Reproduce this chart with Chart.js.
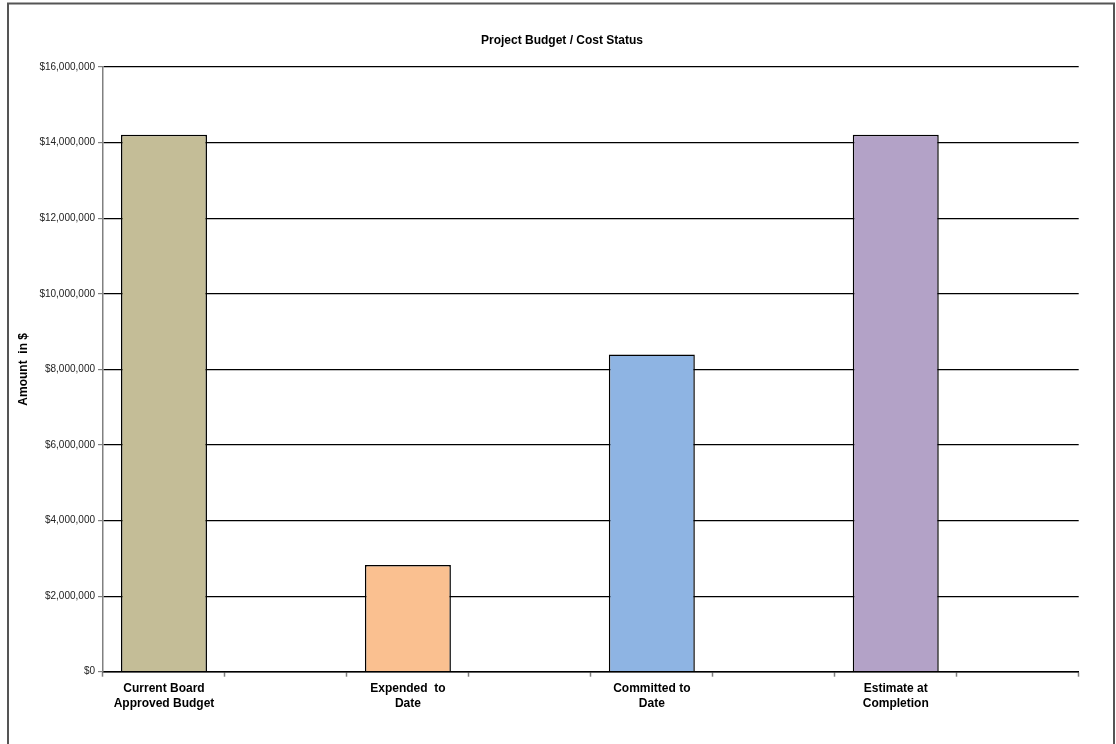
<!DOCTYPE html>
<html>
<head>
<meta charset="utf-8">
<script src="https://cdn.jsdelivr.net/npm/chart.js@4/dist/chart.umd.min.js"></script>
<style>
    html, body { margin: 0; padding: 0; background: #fff; }
    #wrap { width: 1116px; height: 744px; }
</style>
</head>
<body>
<div id="wrap"><canvas id="budgetChart" width="1116" height="744"></canvas></div>
<script>
/* ---------- DATA ---------- */
// every other slot is left empty, like the source sheet
const categories = [
    ["Current Board", "Approved Budget"], "",
    ["Expended  to", "Date"], "",
    ["Committed to", "Date"], "",
    ["Estimate at", "Completion"], ""
];
const amounts = [14210000, null, 2820000, null, 8390000, null, 14210000, null];
const barColors = ["#C4BD97", "#fff", "#FAC090", "#fff", "#8EB4E3", "#fff", "#B3A2C7", "#fff"];
const yTicks = [0, 2000000, 4000000, 6000000, 8000000, 10000000, 12000000, 14000000, 16000000];

/* ---------- outer frame ---------- */
const framePlugin = {
    id: "frame",
    beforeDraw(chart) {
        const ctx = chart.ctx;
        ctx.save();
        ctx.fillStyle = "#fff";
        ctx.fillRect(0, 0, chart.width, chart.height);
        ctx.strokeStyle = "#555";
        ctx.lineWidth = 2;
        ctx.strokeRect(8, 3.5, 1106, 800);
        ctx.restore();
    }
};

const FONT = "'Liberation Sans', Arial, sans-serif";

new Chart(document.getElementById("budgetChart"), {
    type: "bar",
    data: {
        labels: categories,
        datasets: [{
            data: amounts,
            backgroundColor: barColors,
            borderColor: "#000",
            borderWidth: 1.5,
            barPercentage: 0.705,
            categoryPercentage: 1
        }]
    },
    options: {
        responsive: false,
        animation: false,
        layout: {
            padding: { left: 8, right: 0, top: 0, bottom: 0 }
        },
        plugins: {
            legend: { display: false },
            tooltip: { enabled: false },
            title: {
                display: true,
                text: "Project Budget / Cost Status",
                color: "#000",
                font: { family: FONT, size: 12, weight: "bold", lineHeight: 1.2 },
                padding: { top: 33, bottom: 19.6 }
            }
        },
        scales: {
            x: {
                offset: true,
                border: { color: "#000", width: 1.5 },
                grid: {
                    offset: true,
                    drawOnChartArea: false,
                    tickLength: 5,
                    tickColor: "#808080",
                    tickWidth: 1.5
                },
                ticks: {
                    color: "#000",
                    maxRotation: 0,
                    autoSkip: false,
                    padding: 4,
                    font: { family: FONT, size: 12, weight: "bold", lineHeight: 1.3 }
                },
                afterFit(scale) { scale.height = 72.3; }
            },
            y: {
                min: yTicks[0],
                max: yTicks[yTicks.length - 1],
                afterBuildTicks(scale) {
                    scale.ticks = yTicks.map(v => ({ value: v }));
                },
                border: { color: "#808080", width: 1.5 },
                grid: {
                    color: "#000",
                    lineWidth: 1.2,
                    tickLength: 5,
                    tickColor: "#808080"
                },
                ticks: {
                    color: "#222",
                    padding: 3,
                    font: { family: FONT, size: 10 },
                    callback: v => "$" + Number(v).toLocaleString("en-US")
                },
                title: {
                    display: true,
                    text: "Amount  in $",
                    color: "#000",
                    font: { family: FONT, size: 12, weight: "bold" },
                    padding: { top: 8, bottom: 0 }
                },
                afterFit(scale) { scale.width = 95; }
            },
            // empty right-hand box: keeps the plot narrower while the title stays centred on the frame
            spacer: {
                position: "right",
                min: 0,
                max: 1,
                grid: { display: false },
                border: { display: false },
                ticks: { display: false },
                afterFit(scale) { scale.width = 37.3; }
            }
        }
    },
    plugins: [framePlugin]
});
</script>
</body>
</html>
